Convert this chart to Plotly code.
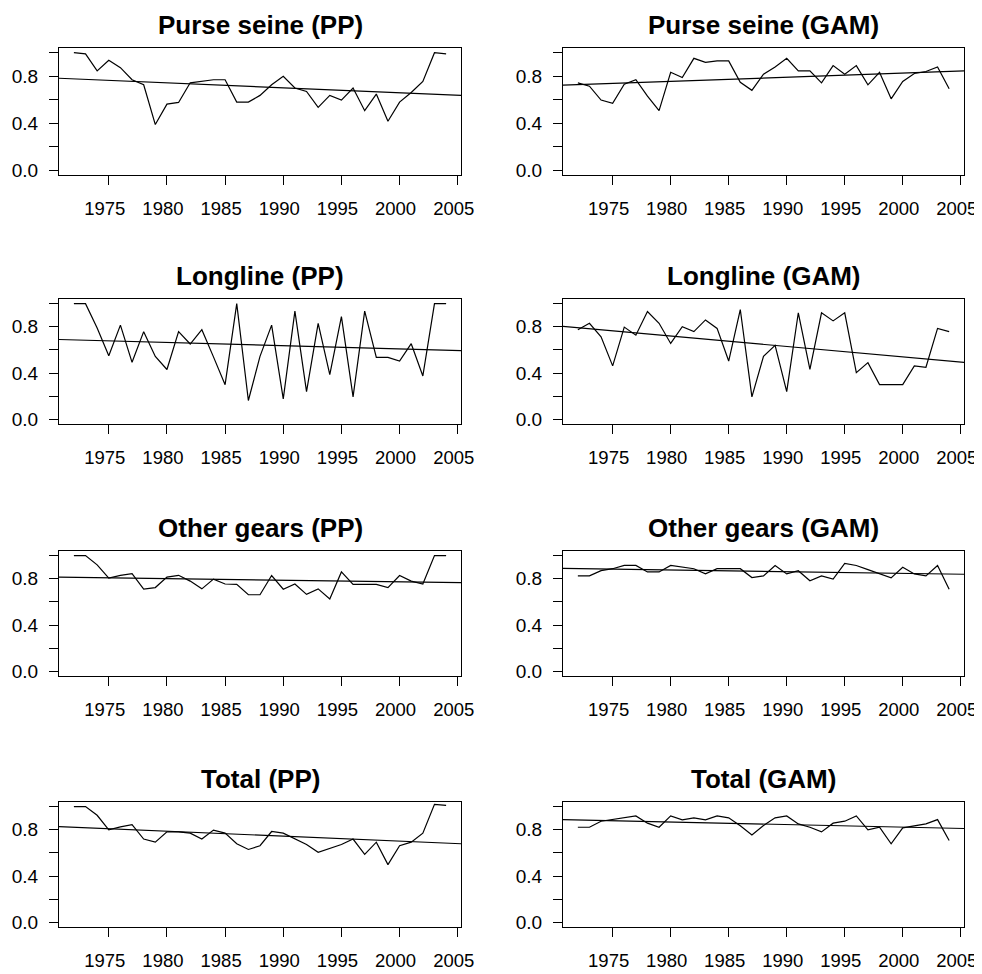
import plotly.graph_objects as go

# years of the series
years = list(range(1972, 2005))

purse_pp = [1.00, 0.99, 0.845, 0.935, 0.873, 0.77, 0.727, 0.389, 0.563, 0.577,
            0.744, 0.76, 0.77, 0.77, 0.58, 0.58, 0.637, 0.727, 0.80, 0.70,
            0.67, 0.535, 0.637, 0.597, 0.70, 0.507, 0.648, 0.417, 0.58, 0.662,
            0.755, 1.00, 0.99]
purse_gam = [0.744, 0.715, 0.597, 0.569, 0.732, 0.77, 0.63, 0.507, 0.834, 0.789,
             0.952, 0.918, 0.93, 0.93, 0.749, 0.68, 0.817, 0.879, 0.952, 0.845,
             0.845, 0.744, 0.89, 0.817, 0.89, 0.727, 0.834, 0.608, 0.755, 0.823,
             0.84, 0.879, 0.693]
longline_pp = [1.00, 1.00, 0.79, 0.549, 0.814, 0.493, 0.758, 0.544, 0.431, 0.758,
               0.651, 0.775, 0.54, 0.30, 1.00, 0.163, 0.544, 0.814, 0.177, 0.935,
               0.24, 0.83, 0.386, 0.887, 0.194, 0.935, 0.535, 0.535, 0.504, 0.654,
               0.375, 1.00, 1.00]
longline_gam = [0.775, 0.83, 0.713, 0.462, 0.797, 0.727, 0.932, 0.83, 0.656, 0.80,
                0.758, 0.859, 0.786, 0.504, 0.949, 0.194, 0.544, 0.639, 0.24, 0.921,
                0.431, 0.921, 0.851, 0.921, 0.403, 0.49, 0.30, 0.30, 0.30, 0.462,
                0.45, 0.786, 0.758]
other_pp = [1.00, 1.00, 0.92, 0.806, 0.83, 0.845, 0.71, 0.724, 0.814, 0.83,
            0.78, 0.713, 0.797, 0.755, 0.752, 0.662, 0.662, 0.828, 0.71, 0.755,
            0.665, 0.713, 0.625, 0.859, 0.752, 0.752, 0.752, 0.724, 0.828, 0.78,
            0.755, 1.00, 1.00]
other_gam = [0.825, 0.825, 0.87, 0.887, 0.915, 0.915, 0.859, 0.859, 0.915, 0.90,
             0.887, 0.842, 0.887, 0.887, 0.887, 0.811, 0.825, 0.915, 0.842, 0.87,
             0.783, 0.825, 0.797, 0.932, 0.915, 0.879, 0.842, 0.808, 0.90, 0.842,
             0.825, 0.915, 0.71]
total_pp = [1.00, 1.00, 0.925, 0.80, 0.825, 0.845, 0.72, 0.693, 0.782, 0.782,
            0.771, 0.72, 0.797, 0.771, 0.68, 0.63, 0.662, 0.785, 0.771, 0.72,
            0.673, 0.605, 0.636, 0.673, 0.72, 0.587, 0.693, 0.499, 0.662, 0.693,
            0.771, 1.02, 1.01]
total_gam = [0.822, 0.822, 0.874, 0.888, 0.905, 0.92, 0.857, 0.822, 0.92, 0.885,
             0.903, 0.885, 0.92, 0.903, 0.834, 0.756, 0.837, 0.903, 0.92, 0.851,
             0.822, 0.782, 0.857, 0.874, 0.92, 0.80, 0.822, 0.679, 0.817, 0.834,
             0.851, 0.888, 0.708]

# linear trend (abline) values at 1970 and 2006
trend_years = [1970, 2006]
trend_purse_pp = [0.786, 0.634]
trend_purse_gam = [0.7215, 0.8475]
trend_longline_pp = [0.692, 0.592]
trend_longline_gam = [0.8095, 0.4865]
trend_other_pp = [0.815, 0.765]
trend_other_gam = [0.891, 0.838]
trend_total_pp = [0.831, 0.676]
trend_total_gam = [0.8896, 0.8094]

titles = ["Purse seine (PP)", "Purse seine (GAM)",
          "Longline (PP)", "Longline (GAM)",
          "Other gears (PP)", "Other gears (GAM)",
          "Total (PP)", "Total (GAM)"]

series = [purse_pp, purse_gam, longline_pp, longline_gam,
          other_pp, other_gam, total_pp, total_gam]
trends = [trend_purse_pp, trend_purse_gam, trend_longline_pp, trend_longline_gam,
          trend_other_pp, trend_other_gam, trend_total_pp, trend_total_gam]

x_ticks = [1975, 1980, 1985, 1990, 1995, 2000, 2005]
y_ticks = [0.0, 0.2, 0.4, 0.6, 0.8, 1.0]
y_labels = ["0.0", "", "0.4", "", "0.8", ""]

# the page body keeps its 8px margin: the figure starts at (8, 8) in the window
# and runs a little past the window edges so no tick label is dropped
OFF = 8
W, H = 982, 974
col_px = [(59, 461), (563, 964)]
row_px = [(48, 175), (299, 424), (551, 676), (802, 927)]

FONT = "Liberation Sans, Arial, Helvetica, sans-serif"

fig = go.Figure()
layout = dict(
    width=W, height=H,
    margin=dict(l=0, r=0, t=0, b=0, autoexpand=False),
    paper_bgcolor="white", plot_bgcolor="white",
    showlegend=False,
    font=dict(family=FONT, size=19, color="black"),
    annotations=[],
)

for i, (ys, tr, title) in enumerate(zip(series, trends, titles)):
    r, c = divmod(i, 2)
    n = i + 1
    xa = "x" if n == 1 else f"x{n}"
    ya = "y" if n == 1 else f"y{n}"
    fig.add_trace(go.Scatter(x=years, y=ys, mode="lines", xaxis=xa, yaxis=ya,
                             line=dict(color="black", width=1.2)))
    fig.add_trace(go.Scatter(x=trend_years, y=tr, mode="lines", xaxis=xa, yaxis=ya,
                             line=dict(color="black", width=1.2)))
    x0, x1 = col_px[c][0] - OFF, col_px[c][1] - OFF
    top, bot = row_px[r][0] - OFF, row_px[r][1] - OFF
    xkey = "xaxis" if n == 1 else f"xaxis{n}"
    ykey = "yaxis" if n == 1 else f"yaxis{n}"
    layout[xkey] = dict(
        domain=[x0 / W, x1 / W], anchor=ya, range=[1970.72, 2005.28],
        tickvals=x_ticks, ticks="outside", ticklen=9, tickwidth=1, tickcolor="black",
        showline=True, linecolor="black", linewidth=1, mirror=True,
        showgrid=False, zeroline=False, ticklabelstandoff=8, ticklabelshift=-4,
        automargin=False, tickfont=dict(size=18.5),
    )
    layout[ykey] = dict(
        domain=[1 - bot / H, 1 - top / H], anchor=xa, range=[-0.04, 1.04],
        tickvals=y_ticks, ticktext=y_labels, ticks="outside", ticklen=9,
        tickwidth=1, tickcolor="black",
        showline=True, linecolor="black", linewidth=1, mirror=True,
        showgrid=False, zeroline=False, ticklabelstandoff=7, automargin=False,
        tickfont=dict(size=19),
    )
    layout["annotations"].append(dict(
        text=f"<b>{title}</b>", x=(x0 + x1) / 2 / W, y=1 - top / H,
        xref="paper", yref="paper", xanchor="center", yanchor="middle",
        yshift=23, showarrow=False, font=dict(size=26, family=FONT),
    ))

fig.update_layout(**layout)
fig.write_html("out.html", config={"displayModeBar": False})
